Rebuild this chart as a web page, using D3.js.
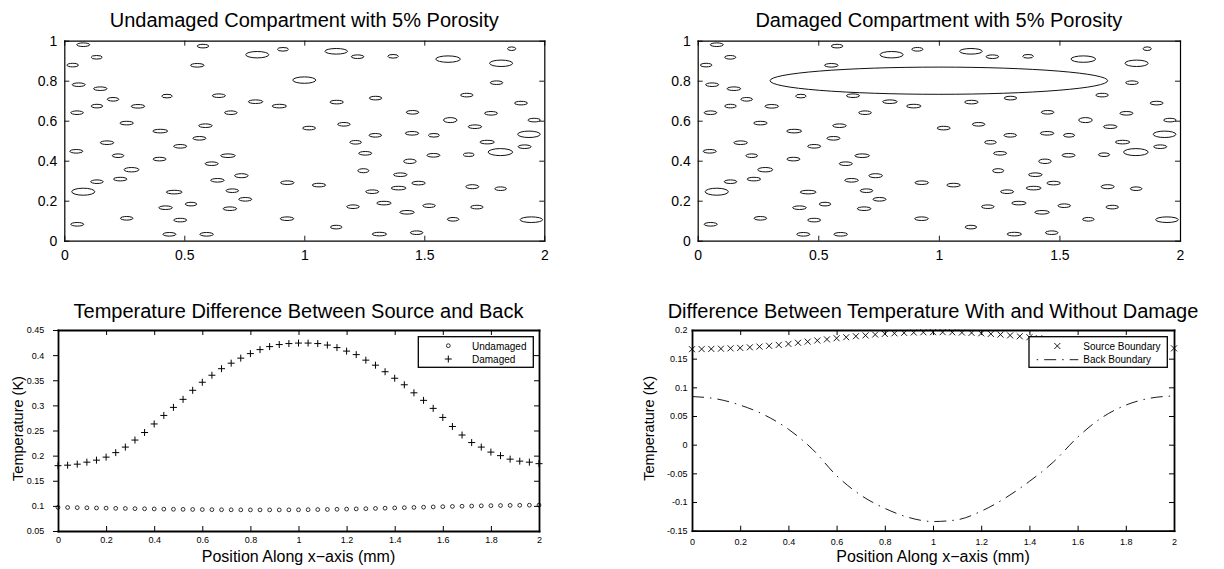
<!DOCTYPE html>
<html>
<head>
<meta charset="utf-8">
<script src="https://cdn.jsdelivr.net/npm/d3@7"></script>
<style>
  body { margin: 0; background: #fff; }
  svg { display: block; font-family: "Liberation Sans", Arial, Helvetica, sans-serif; }
</style>
</head>
<body>
<svg id="fig" width="1224" height="569"></svg>
<script>
// ---- Pore geometry (mm): centres and half-axes of the elliptical pores ----
const poreX = [0.079,0.135,0.035,0.578,0.554,0.804,0.911,0.060,0.150,0.203,0.136,0.053,0.307,0.428,0.644,0.797,0.896,0.694,0.260,0.400,0.588,0.563,0.178,0.483,0.050,0.224,0.682,0.397,0.614,0.280,0.738,0.136,0.233,0.638,0.929,0.079,0.458,0.700,0.754,0.528,0.422,0.690,0.260,0.483,0.928,0.054,0.438,0.593,
  1.133,1.222,1.370,1.599,1.820,1.864,1.000,1.801,1.677,1.297,1.135,1.903,1.451,1.778,1.608,1.958,1.020,1.165,1.711,1.296,1.449,1.540,1.936,1.214,1.762,1.918,1.817,1.254,1.538,1.685,1.440,1.246,1.400,1.061,1.476,1.393,1.700,1.818,1.283,1.332,1.203,1.520,1.719,1.428,1.620,1.946,1.133,1.313,1.468];
const poreY = [0.980,0.917,0.878,0.973,0.877,0.930,0.957,0.780,0.760,0.707,0.673,0.640,0.672,0.723,0.725,0.695,0.673,0.640,0.588,0.548,0.575,0.512,0.490,0.472,0.447,0.425,0.425,0.408,0.385,0.355,0.325,0.295,0.308,0.302,0.290,0.245,0.243,0.250,0.207,0.183,0.165,0.160,0.112,0.103,0.110,0.082,0.032,0.032,
  0.947,0.920,0.922,0.908,0.887,0.960,0.803,0.790,0.728,0.713,0.693,0.688,0.642,0.637,0.603,0.603,0.563,0.582,0.570,0.527,0.537,0.527,0.532,0.492,0.493,0.470,0.443,0.437,0.427,0.430,0.397,0.350,0.330,0.278,0.288,0.263,0.270,0.260,0.245,0.188,0.170,0.175,0.168,0.142,0.107,0.105,0.068,0.033,0.040];
const poreRx = [0.027,0.023,0.024,0.024,0.028,0.048,0.023,0.027,0.028,0.024,0.024,0.026,0.028,0.022,0.027,0.030,0.030,0.026,0.028,0.031,0.028,0.027,0.028,0.027,0.027,0.024,0.030,0.027,0.027,0.031,0.028,0.026,0.028,0.028,0.028,0.048,0.033,0.026,0.027,0.024,0.028,0.028,0.026,0.027,0.028,0.027,0.027,0.028,
  0.047,0.026,0.022,0.051,0.048,0.017,0.048,0.026,0.026,0.026,0.028,0.027,0.026,0.027,0.028,0.026,0.027,0.026,0.028,0.026,0.028,0.023,0.047,0.024,0.030,0.027,0.051,0.027,0.027,0.023,0.026,0.023,0.028,0.028,0.028,0.031,0.027,0.024,0.027,0.030,0.026,0.026,0.026,0.030,0.024,0.047,0.024,0.030,0.026];
const poreRy = [0.009,0.009,0.009,0.009,0.009,0.016,0.009,0.009,0.009,0.009,0.009,0.009,0.009,0.009,0.009,0.009,0.009,0.009,0.009,0.009,0.009,0.009,0.009,0.009,0.009,0.009,0.009,0.009,0.009,0.011,0.010,0.009,0.009,0.009,0.009,0.0175,0.009,0.009,0.009,0.009,0.009,0.009,0.009,0.009,0.009,0.009,0.009,0.009,
  0.014,0.009,0.009,0.016,0.016,0.009,0.016,0.009,0.009,0.009,0.009,0.009,0.009,0.009,0.0125,0.009,0.009,0.009,0.009,0.009,0.009,0.009,0.016,0.009,0.009,0.009,0.0175,0.009,0.009,0.009,0.011,0.010,0.009,0.009,0.009,0.009,0.010,0.009,0.009,0.009,0.009,0.009,0.009,0.009,0.009,0.014,0.009,0.009,0.009];

// Crack introduced in the damaged compartment (centre, half-axes in mm)
const crackCentre = [1.0, 0.80];
const crackRadii = [0.70, 0.068];

// ---- Temperature results along the x-axis ----
const xGrid = [0,0.04,0.08,0.12,0.16,0.2,0.24,0.28,0.32,0.36,0.4,0.44,0.48,0.52,0.56,0.6,0.64,0.68,0.72,0.76,0.8,0.84,0.88,0.92,0.96,1,1.04,1.08,1.12,1.16,1.2,1.24,1.28,1.32,1.36,1.4,1.44,1.48,1.52,1.56,1.6,1.64,1.68,1.72,1.76,1.8,1.84,1.88,1.92,1.96,2];
const undamagedDiff = [0.0970,0.0968,0.0965,0.0962,0.0958,0.0955,0.0951,0.0948,0.0945,0.0942,0.0939,0.0936,0.0933,0.0931,0.0929,0.0927,0.0925,0.0923,0.0922,0.0921,0.0920,0.0920,0.0920,0.0920,0.0921,0.0922,0.0924,0.0926,0.0929,0.0932,0.0936,0.0940,0.0944,0.0949,0.0954,0.0959,0.0964,0.0969,0.0974,0.0979,0.0984,0.0989,0.0993,0.0997,0.1001,0.1004,0.1007,0.1010,0.1012,0.1014,0.1015];
const damagedDiff = [0.180,0.181,0.183,0.187,0.191,0.197,0.206,0.217,0.231,0.246,0.263,0.280,0.296,0.312,0.330,0.346,0.360,0.373,0.384,0.394,0.403,0.411,0.417,0.421,0.423,0.424,0.424,0.423,0.420,0.415,0.408,0.401,0.390,0.380,0.367,0.354,0.341,0.325,0.310,0.294,0.276,0.258,0.241,0.226,0.217,0.207,0.200,0.193,0.189,0.187,0.184];
const sourceChange = [0.1665,0.1667,0.1670,0.1674,0.1680,0.1688,0.1698,0.1710,0.1724,0.1740,0.1758,0.1777,0.1797,0.1817,0.1837,0.1856,0.1874,0.1891,0.1906,0.1920,0.1932,0.1942,0.1950,0.1956,0.1960,0.1962,0.1962,0.1960,0.1956,0.1950,0.1942,0.1932,0.1920,0.1906,0.1891,0.1874,0.1856,0.1837,0.1817,0.1797,0.1777,0.1758,0.1740,0.1725,0.1712,0.1702,0.1694,0.1688,0.1684,0.1681,0.1680];
const xBack = [0,0.1,0.2,0.3,0.4,0.5,0.6,0.7,0.8,0.9,1.0,1.1,1.2,1.3,1.4,1.5,1.6,1.7,1.8,1.9,2.0];
const backChange = [0.084,0.080,0.069,0.052,0.027,-0.008,-0.054,-0.088,-0.111,-0.127,-0.134,-0.131,-0.116,-0.093,-0.064,-0.030,0.013,0.047,0.069,0.081,0.085];

// ---- Tick values and labels ----
const poreXTicks = [0,0.5,1,1.5,2];
const poreXLabels = ["0","0.5","1","1.5","2"];
const poreYTicks = [0,0.2,0.4,0.6,0.8,1];
const poreYLabels = ["0","0.2","0.4","0.6","0.8","1"];
const posTicks = [0,0.2,0.4,0.6,0.8,1,1.2,1.4,1.6,1.8,2];
const posLabels = ["0","0.2","0.4","0.6","0.8","1","1.2","1.4","1.6","1.8","2"];
const diffTicks = [0.05,0.1,0.15,0.2,0.25,0.3,0.35,0.4,0.45];
const diffLabels = ["0.05","0.1","0.15","0.2","0.25","0.3","0.35","0.4","0.45"];
const changeTicks = [-0.15,-0.1,-0.05,0,0.05,0.1,0.15,0.2];
const changeLabels = ["-0.15","-0.1","-0.05","0","0.05","0.1","0.15","0.2"];

const FONT = '"Liberation Sans", Arial, Helvetica, sans-serif';
const svg = d3.select("#fig");

// Boxed MATLAB-style axes with inward ticks on all four sides
function makeAxes(cfg) {
  const g = svg.append("g");
  const x = d3.scaleLinear().domain(cfg.xDomain).range(cfg.xRange);
  const y = d3.scaleLinear().domain(cfg.yDomain).range(cfg.yRange);
  const [x0, x1] = cfg.xRange;
  const [yb, yt] = cfg.yRange;
  const style = sel => {
    sel.attr("font-family", null).attr("font-size", null);
    sel.select(".domain").attr("stroke", "#000").attr("stroke-width", cfg.lw).attr("stroke-linecap", "square");
    sel.selectAll(".tick line").attr("stroke", "#000").attr("stroke-width", cfg.tw);
    sel.selectAll(".tick text").attr("fill", "#000")
      .style("font-family", FONT).style("font-size", cfg.fs + "px");
  };
  const blank = () => "";
  g.append("g").attr("transform", `translate(0,${yt})`)
    .call(d3.axisTop(x).tickValues(cfg.xTicks).tickFormat(blank).tickSizeInner(-cfg.tick).tickSizeOuter(0)).call(style);
  g.append("g").attr("transform", `translate(${x1},0)`)
    .call(d3.axisRight(y).tickValues(cfg.yTicks).tickFormat(blank).tickSizeInner(-cfg.tick).tickSizeOuter(0)).call(style);
  g.append("g").attr("transform", `translate(0,${yb})`)
    .call(d3.axisBottom(x).tickValues(cfg.xTicks).tickFormat((d, i) => cfg.xLabels[i])
      .tickSizeInner(-cfg.tick).tickSizeOuter(0).tickPadding(cfg.xPad)).call(style);
  g.append("g").attr("transform", `translate(${x0},0)`)
    .call(d3.axisLeft(y).tickValues(cfg.yTicks).tickFormat((d, i) => cfg.yLabels[i])
      .tickSizeInner(cfg.leftOut ? cfg.tick : -cfg.tick).tickSizeOuter(0).tickPadding(cfg.yPad)).call(style);

  g.append("text").attr("x", (x0 + x1) / 2).attr("y", cfg.titleY)
    .attr("text-anchor", "middle").style("font-size", "20px").style("font-family", FONT)
    .text(cfg.title);
  if (cfg.xTitle) {
    g.append("text").attr("x", (x0 + x1) / 2).attr("y", 561.5)
      .attr("text-anchor", "middle").style("font-size", "16px").style("font-family", FONT)
      .text(cfg.xTitle);
  }
  if (cfg.yTitle) {
    g.append("text").attr("transform", `translate(${cfg.yTitleX},${(yb + yt) / 2 - 2}) rotate(-90)`)
      .attr("text-anchor", "middle").style("font-size", "14.5px").style("font-family", FONT)
      .text(cfg.yTitle);
  }
  return { g, x, y };
}

// Draw the pores (and optionally the crack) into a compartment panel
function drawPores(ax, withCrack) {
  const idx = d3.range(poreX.length).filter(i => {
    if (!withCrack) return true;
    const u = (poreX[i] - crackCentre[0]) / crackRadii[0];
    const v = (poreY[i] - crackCentre[1]) / crackRadii[1];
    return u * u + v * v > 1;
  });
  ax.g.append("g").selectAll("ellipse").data(idx).join("ellipse")
    .attr("cx", i => ax.x(poreX[i]))
    .attr("cy", i => ax.y(poreY[i]))
    .attr("rx", i => ax.x(poreX[i] + poreRx[i]) - ax.x(poreX[i]))
    .attr("ry", i => ax.y(poreY[i] - poreRy[i]) - ax.y(poreY[i]))
    .attr("fill", "none").attr("stroke", "#111").attr("stroke-width", 1);
  if (withCrack) {
    ax.g.append("ellipse")
      .attr("cx", ax.x(crackCentre[0])).attr("cy", ax.y(crackCentre[1]))
      .attr("rx", ax.x(crackCentre[0] + crackRadii[0]) - ax.x(crackCentre[0]))
      .attr("ry", ax.y(crackCentre[1] - crackRadii[1]) - ax.y(crackCentre[1]))
      .attr("fill", "none").attr("stroke", "#111").attr("stroke-width", 1);
  }
}

const topCommon = {
  xDomain: [0, 2], yDomain: [0, 1], yRange: [240.7, 40.7],
  xTicks: poreXTicks, xLabels: poreXLabels, yTicks: poreYTicks, yLabels: poreYLabels,
  lw: 1.2, tw: 0.9, fs: 14, tick: 5, xPad: 9.4, yPad: 7, titleY: 27
};

const tl = makeAxes(Object.assign({}, topCommon, {
  xRange: [64.3, 544.3], title: "Undamaged Compartment with 5% Porosity"
}));
drawPores(tl, false);

const tr = makeAxes(Object.assign({}, topCommon, {
  xRange: [697.7, 1180], title: "Damaged Compartment with 5% Porosity"
}));
drawPores(tr, true);

// ---- Bottom left: source-to-back temperature difference ----
const bl = makeAxes({
  xDomain: [0, 2], xRange: [58, 539], yDomain: [0.05, 0.45], yRange: [531, 330],
  xTicks: posTicks, xLabels: posLabels, yTicks: diffTicks, yLabels: diffLabels,
  lw: 1.8, tw: 1, fs: 9, tick: 5, xPad: 6, yPad: 8.7, leftOut: true, titleY: 318,
  title: "Temperature Difference Between Source and Back",
  xTitle: "Position Along x\u2212axis (mm)", yTitle: "Temperature (K)", yTitleX: 22.7
});
const plusPath = "M-3.5,0H3.5M0,-3.5V3.5";
const crossPath = "M-3,-3L3,3M-3,3L3,-3";

bl.g.append("g").selectAll("circle").data(xGrid).join("circle")
  .attr("cx", d => bl.x(d)).attr("cy", (d, i) => bl.y(undamagedDiff[i])).attr("r", 1.9)
  .attr("fill", "none").attr("stroke", "#000").attr("stroke-width", 0.8);
bl.g.append("g").selectAll("path").data(xGrid).join("path")
  .attr("d", plusPath)
  .attr("transform", (d, i) => `translate(${bl.x(d)},${bl.y(damagedDiff[i])})`)
  .attr("fill", "none").attr("stroke", "#000").attr("stroke-width", 1);

// legend
const lgL = bl.g.append("g");
lgL.append("rect").attr("x", 418.3).attr("y", 336.7).attr("width", 115).attr("height", 30.6)
  .attr("fill", "#fff").attr("stroke", "#000").attr("stroke-width", 1.3);
lgL.append("circle").attr("cx", 448.3).attr("cy", 345.7).attr("r", 1.9)
  .attr("fill", "none").attr("stroke", "#000").attr("stroke-width", 0.8);
lgL.append("path").attr("d", plusPath).attr("transform", "translate(448.3,359)")
  .attr("stroke", "#000").attr("stroke-width", 1);
lgL.append("text").attr("x", 472).attr("y", 349.5).style("font-size", "10px").style("font-family", FONT).text("Undamaged");
lgL.append("text").attr("x", 472).attr("y", 362.7).style("font-size", "10px").style("font-family", FONT).text("Damaged");

// ---- Bottom right: change in boundary temperature due to damage ----
const br = makeAxes({
  xDomain: [0, 2], xRange: [692, 1174], yDomain: [-0.15, 0.2], yRange: [530.7, 330],
  xTicks: posTicks, xLabels: posLabels, yTicks: changeTicks, yLabels: changeLabels,
  lw: 1.8, tw: 1, fs: 9, tick: 5, xPad: 7.9, yPad: 4.5, titleY: 318,
  title: "Difference Between Temperature With and Without Damage",
  xTitle: "Position Along x\u2212axis (mm)", yTitle: "Temperature (K)", yTitleX: 654
});
const dashDot = "12,6,1.5,6";
br.g.append("path")
  .datum(xBack)
  .attr("d", d3.line().x(d => br.x(d)).y((d, i) => br.y(backChange[i])).curve(d3.curveMonotoneX))
  .attr("fill", "none").attr("stroke", "#000").attr("stroke-width", 0.9).attr("stroke-dasharray", dashDot);
br.g.append("g").selectAll("path").data(xGrid).join("path")
  .attr("d", crossPath)
  .attr("transform", (d, i) => `translate(${br.x(d)},${br.y(sourceChange[i])})`)
  .attr("fill", "none").attr("stroke", "#000").attr("stroke-width", 0.9);

const lgR = br.g.append("g");
lgR.append("rect").attr("x", 1029).attr("y", 336.7).attr("width", 138.3).attr("height", 30.6)
  .attr("fill", "#fff").attr("stroke", "#000").attr("stroke-width", 1.3);
lgR.append("path").attr("d", crossPath).attr("transform", "translate(1057.3,346)")
  .attr("stroke", "#000").attr("stroke-width", 0.9);
lgR.append("line").attr("x1", 1036.7).attr("x2", 1078.3).attr("y1", 359.7).attr("y2", 359.7)
  .attr("stroke", "#000").attr("stroke-width", 0.9).attr("stroke-dasharray", "1.5,6,12,6");
lgR.append("text").attr("x", 1083.3).attr("y", 349.5).style("font-size", "10px").style("font-family", FONT).text("Source Boundary");
lgR.append("text").attr("x", 1083.3).attr("y", 362.7).style("font-size", "10px").style("font-family", FONT).text("Back Boundary");
</script>
</body>
</html>
